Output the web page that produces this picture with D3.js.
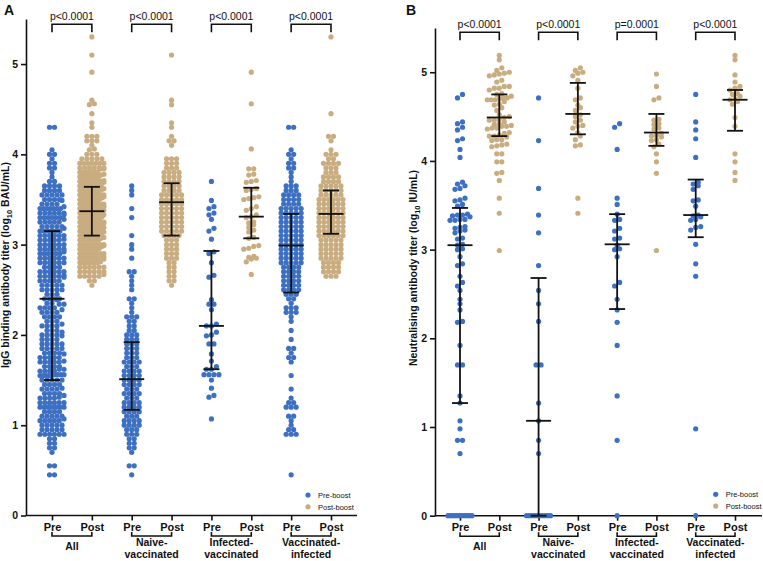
<!DOCTYPE html>
<html>
<head>
<meta charset="utf-8">
<title>Antibody titers pre/post boost</title>
<script src="https://cdn.jsdelivr.net/npm/d3@7"></script>
<style>
  body { margin: 0; background: #fff; }
  text { font-family: "Liberation Sans", Arial, sans-serif; fill: #111; }
</style>
</head>
<body>
<script>
// ---- data ----
const columns = ["allPre", "allPost", "naivePre", "naivePost", "infPre", "infPost", "viPre", "viPost"];
const tickLabels = ["Pre", "Post"];
const groupLabels = [["All"], ["Naive-", "vaccinated"], ["Infected-", "vaccinated"], ["Vaccinated-", "infected"]];
const yTicks = [0, 1, 2, 3, 4, 5];
const legendLabels = ["Pre-boost", "Post-boost"];

// panel A, IgG binding titer (log10 BAU/mL); dense groups as [value, count]
const naivePreIgG = [[0.45,1],[0.55,2],[0.70,1],[0.75,2],[0.80,2],[0.85,2],[0.90,3],[0.95,3],[1.00,4],[1.05,4],[1.10,3],
  [1.15,4],[1.20,4],[1.25,4],[1.30,3],[1.35,4],[1.40,3],[1.45,4],[1.50,4],[1.55,4],[1.60,4],[1.65,3],[1.70,4],[1.75,3],
  [1.80,3],[1.85,3],[1.90,3],[1.95,3],[2.00,3],[2.05,2],[2.10,2],[2.15,2],[2.20,3],[2.25,1],[2.30,1],[2.35,1],[2.40,2],
  [2.50,1],[2.55,1],[2.60,1],[2.65,1],[2.70,2],[2.85,1],[2.95,1],[3.00,1],[3.10,1],[3.30,1],[3.40,1],[3.55,1],[3.60,1],[3.65,1]];
const naivePostIgG = [[2.55,1],[2.60,2],[2.65,2],[2.70,2],[2.75,2],[2.80,2],[2.85,3],[2.90,3],[2.95,3],[3.00,3],[3.05,3],
  [3.10,4],[3.15,5],[3.20,5],[3.25,5],[3.30,5],[3.35,5],[3.40,5],[3.45,5],[3.50,5],[3.55,5],[3.60,4],[3.65,4],[3.70,4],
  [3.75,4],[3.80,4],[3.85,3],[3.90,3],[3.95,3],[4.10,1],[4.15,2],[4.20,1],[4.30,1],[4.35,1],[4.55,1],[4.60,1],[5.10,1]];
const infVaxPreIgG = [3.70,3.49,3.42,3.40,3.35,3.33,3.28,3.18,3.15,3.06,2.92,2.90,2.80,2.66,2.64,2.39,2.34,2.34,2.28,2.12,
  2.10,2.10,2.03,2.00,1.99,1.90,1.90,1.79,1.71,1.65,1.62,1.62,1.56,1.56,1.56,1.56,1.50,1.41,1.33,1.31,1.07];
const infVaxPostIgG = [4.91,4.56,4.06,3.84,3.84,3.78,3.77,3.71,3.70,3.69,3.62,3.61,3.60,3.53,3.52,3.51,3.50,3.42,3.40,3.38,
  3.33,3.31,3.30,3.25,3.24,3.22,3.19,3.16,3.14,3.08,3.07,2.99,2.98,2.96,2.95,2.87,2.86,2.85,2.84,2.81,2.67];
const vaxInfPreIgG = [[0.45,1],[0.90,3],[0.95,2],[1.00,1],[1.05,1],[1.10,2],[1.20,3],[1.25,2],[1.30,1],[1.40,1],[1.55,1],
  [1.70,1],[1.75,2],[1.80,1],[1.85,2],[1.95,1],[2.05,1],[2.15,1],[2.20,1],[2.25,3],[2.30,3],[2.35,1],[2.40,2],[2.45,3],
  [2.50,4],[2.55,4],[2.60,4],[2.65,4],[2.70,4],[2.75,4],[2.80,5],[2.85,5],[2.90,5],[2.95,5],[3.00,5],[3.05,5],[3.10,5],
  [3.15,5],[3.20,5],[3.25,5],[3.30,5],[3.35,5],[3.40,5],[3.45,4],[3.50,4],[3.55,4],[3.60,3],[3.65,3],[3.70,1],[3.75,1],
  [3.80,1],[3.85,2],[3.90,2],[3.95,1],[4.00,2],[4.05,1],[4.30,2]];
const vaxInfPostIgG = [[2.65,3],[2.70,4],[2.75,4],[2.80,4],[2.85,5],[2.90,5],[2.95,5],[3.00,5],[3.05,5],[3.10,6],[3.15,6],
  [3.20,6],[3.25,6],[3.30,6],[3.35,6],[3.40,6],[3.45,6],[3.50,6],[3.55,5],[3.60,5],[3.65,5],[3.70,4],[3.75,4],[3.80,3],
  [3.85,3],[3.90,4],[3.95,2],[4.00,3],[4.05,1],[4.15,1],[4.20,2],[4.45,1],[5.30,1]];
// [median, q1, q3] per column
const igGSummary = [[2.40,1.50,3.15],[3.37,3.10,3.64],[1.51,1.17,1.92],[3.47,3.10,3.68],
  [2.10,1.62,2.93],[3.31,3.07,3.63],[2.99,2.47,3.34],[3.34,3.12,3.60]];
const igGPValues = ["p<0.0001", "p<0.0001", "p<0.0001", "p<0.0001"];

// panel B, neutralising titer (log10 IU/mL)
const naivePreNab = [4.71,4.23,3.69,3.39,3.19,2.82,2.54,2.39,2.19,1.70,1.70,1.27,1.07,0.85,0.70,0,0,0,0,0,0,0,0,0,0];
const naivePostNab = [5.05,5.02,5.00,4.99,4.96,4.91,4.82,4.71,4.69,4.63,4.60,4.57,4.52,4.50,4.46,4.44,4.40,4.39,4.37,
  4.32,4.28,4.24,4.18,4.17,3.58,3.41];
const infVaxPreNab = [4.42,4.38,4.13,3.58,3.51,3.40,3.34,3.33,3.24,3.21,3.13,3.12,3.05,3.01,3.00,2.92,2.63,2.59,2.44,
  2.32,2.18,1.92,1.35,0.85,0];
const infVaxPostNab = [4.98,4.84,4.71,4.69,4.47,4.46,4.42,4.41,4.37,4.36,4.31,4.29,4.28,4.27,4.24,4.23,4.19,4.16,4.08,
  3.99,3.86,2.99];
const vaxInfPreNab = [4.75,4.44,4.35,4.25,4.04,3.76,3.74,3.72,3.68,3.56,3.55,3.49,3.39,3.38,3.37,3.34,3.33,3.26,3.25,
  3.22,3.06,2.84,2.70,0.98,0];
const vaxInfPostNab = [5.19,5.14,4.97,4.89,4.84,4.82,4.80,4.76,4.75,4.73,4.70,4.69,4.67,4.64,4.49,4.39,4.08,3.99,3.87,3.78];
const nabSummary = [[3.05,1.27,3.47],[4.49,4.28,4.75],[1.07,0,2.68],[4.53,4.30,4.88],
  [3.06,2.33,3.40],[4.32,4.17,4.53],[3.39,3.14,3.79],[4.69,4.34,4.80]];
const nabPValues = ["p<0.0001", "p<0.0001", "p=0.0001", "p<0.0001"];

// ---- helpers ----
function expand(pairs) {
  const out = [];
  pairs.forEach(p => { for (let i = 0; i < p[1]; i++) out.push(p[0]); });
  return out;
}

function columnsFrom(np, npo, ip, ipo, vp, vpo) {
  return [np.concat(ip, vp), npo.concat(ipo, vpo), np, npo, ip, ipo, vp, vpo];
}

// row-based swarm, squeezed when a row gets wider than maxHalf
function swarm(vals, y, cx, maxHalf, gap) {
  const ys = vals.map(v => y(v)).sort((a, b) => b - a);
  const out = [];
  let row = [];
  const flush = () => {
    const n = row.length;
    const d = n > 1 ? Math.min(gap, 2 * maxHalf / (n - 1)) : 0;
    row.forEach((yy, j) => out.push([cx + (j - (n - 1) / 2) * d, yy]));
    row = [];
  };
  ys.forEach(yy => {
    if (row.length && row[0] - yy > 4) flush();
    row.push(yy);
  });
  flush();
  return out;
}

const blue = "#3d70c2", tan = "#c9ad80";
const svg = d3.select("body").append("svg").attr("width", 763).attr("height", 561);

function drawPanel(p) {
  const g = svg.append("g");
  const y = d3.scaleLinear().domain([0, 5.5]).range([p.y0, p.yTop]);
  const x = d3.scalePoint().domain(columns).range([p.x0, p.x1]);

  // y axis
  const ya = g.append("g").attr("transform", `translate(${p.axisX},0)`)
    .call(d3.axisLeft(y).tickValues(yTicks).tickSize(5).tickSizeOuter(0).tickPadding(3).tickFormat(d3.format("d")));
  ya.select(".domain").attr("stroke", "#111").attr("stroke-width", 1.6);
  ya.selectAll(".tick line").attr("stroke", "#111").attr("stroke-width", 1.6);
  ya.selectAll(".tick text").attr("font-size", 10.5).attr("font-weight", "bold")
    .attr("font-family", "Liberation Sans, Arial, sans-serif").attr("fill", "#111");

  // x axis
  g.append("line").attr("x1", p.axisX).attr("x2", p.axisEnd).attr("y1", p.y0).attr("y2", p.y0)
    .attr("stroke", "#111").attr("stroke-width", 1.6);
  const xa = g.append("g").attr("transform", `translate(0,${p.y0})`)
    .call(d3.axisBottom(x).tickSize(5).tickPadding(3).tickFormat((d, i) => tickLabels[i % 2]));
  xa.select(".domain").remove();
  xa.selectAll(".tick line").attr("stroke", "#111").attr("stroke-width", 1.6);
  xa.selectAll(".tick text").attr("font-size", 11).attr("font-weight", "bold")
    .attr("font-family", "Liberation Sans, Arial, sans-serif").attr("fill", "#111");

  // group brackets and names under the axis
  const by = p.y0 + 20.5;
  groupLabels.forEach((lab, i) => {
    const a = x(columns[2 * i]), b = x(columns[2 * i + 1]);
    g.append("path").attr("d", `M${a},${by - 4}V${by}H${b}V${by - 4}`)
      .attr("fill", "none").attr("stroke", "#111").attr("stroke-width", 1.6);
    const t = g.append("text").attr("text-anchor", "middle").attr("font-size", 10.5).attr("font-weight", "bold");
    if (lab.length === 1) {
      t.append("tspan").attr("x", (a + b) / 2).attr("y", by + 14).text(lab[0]);
    } else {
      t.append("tspan").attr("x", (a + b) / 2).attr("y", by + 10).text(lab[0]);
      t.append("tspan").attr("x", (a + b) / 2).attr("y", by + 21.5).text(lab[1]);
    }
  });

  // p-value brackets
  p.pvals.forEach((lab, i) => {
    const a = x(columns[2 * i]), b = x(columns[2 * i + 1]);
    g.append("path").attr("d", `M${a},${p.pLine + 8}V${p.pLine}H${b}V${p.pLine + 8}`)
      .attr("fill", "none").attr("stroke", "#111").attr("stroke-width", 1.6);
    g.append("text").attr("x", (a + b) / 2).attr("y", p.pLine - 4).attr("text-anchor", "middle")
      .attr("font-size", 10.5).text(lab);
  });

  // points
  p.data.forEach((vals, i) => {
    const pts = swarm(vals, y, x(columns[i]), 12, 5.0);
    g.append("g").selectAll("circle").data(pts).join("circle")
      .attr("cx", d => d[0]).attr("cy", d => d[1]).attr("r", 2.6)
      .attr("fill", i % 2 ? tan : blue);
  });

  // median and interquartile range
  p.summary.forEach((s, i) => {
    const cx = x(columns[i]);
    const eb = g.append("g").attr("stroke", "#111").attr("stroke-width", 1.8);
    eb.append("line").attr("x1", cx).attr("x2", cx).attr("y1", y(s[1])).attr("y2", y(s[2]));
    eb.append("line").attr("x1", cx - 12.5).attr("x2", cx + 12.5).attr("y1", y(s[0])).attr("y2", y(s[0]));
    [s[1], s[2]].forEach(q => eb.append("line").attr("x1", cx - 8).attr("x2", cx + 8).attr("y1", y(q)).attr("y2", y(q)));
  });

  // legend
  legendLabels.forEach((lab, i) => {
    g.append("circle").attr("cx", p.legX).attr("cy", p.legY + i * 11.8).attr("r", 2.6).attr("fill", i ? tan : blue);
    g.append("text").attr("x", p.legX + 10).attr("y", p.legY + i * 11.8 + 3).attr("font-size", 7.5)
      .attr("fill", "#333").text(lab);
  });

  // y title with subscript
  const yt = g.append("text").attr("transform", `translate(${p.titleX},${p.titleY}) rotate(-90)`)
    .attr("text-anchor", "middle").attr("font-size", 10.5).attr("font-weight", "bold");
  yt.append("tspan").text(p.title[0]);
  yt.append("tspan").attr("font-size", 7.5).attr("dy", 2.5).text("10");
  yt.append("tspan").attr("dy", -2.5).text(p.title[1]);

  // panel letter
  g.append("text").attr("x", p.letterX).attr("y", 15).attr("font-size", 14).attr("font-weight", "bold").text(p.letter);
}

drawPanel({
  letter: "A", letterX: 4,
  y0: 515.5, yTop: 18.9, x0: 52, x1: 331, axisX: 26, axisEnd: 357, pLine: 24.3,
  legX: 308, legY: 495, titleX: 9, titleY: 265,
  title: ["IgG binding antibody titer (log", " BAU/mL)"],
  pvals: igGPValues, summary: igGSummary,
  data: columnsFrom(expand(naivePreIgG), expand(naivePostIgG), infVaxPreIgG, infVaxPostIgG,
    expand(vaxInfPreIgG), expand(vaxInfPostIgG))
});

drawPanel({
  letter: "B", letterX: 406,
  y0: 515.7, yTop: 27.9, x0: 460, x1: 735, axisX: 435, axisEnd: 762, pLine: 32.3,
  legX: 715.7, legY: 494.3, titleX: 417, titleY: 268,
  title: ["Neutralising antibody titer (log", " IU/mL)"],
  pvals: nabPValues, summary: nabSummary,
  data: columnsFrom(naivePreNab, naivePostNab, infVaxPreNab, infVaxPostNab, vaxInfPreNab, vaxInfPostNab)
});
</script>
</body>
</html>
